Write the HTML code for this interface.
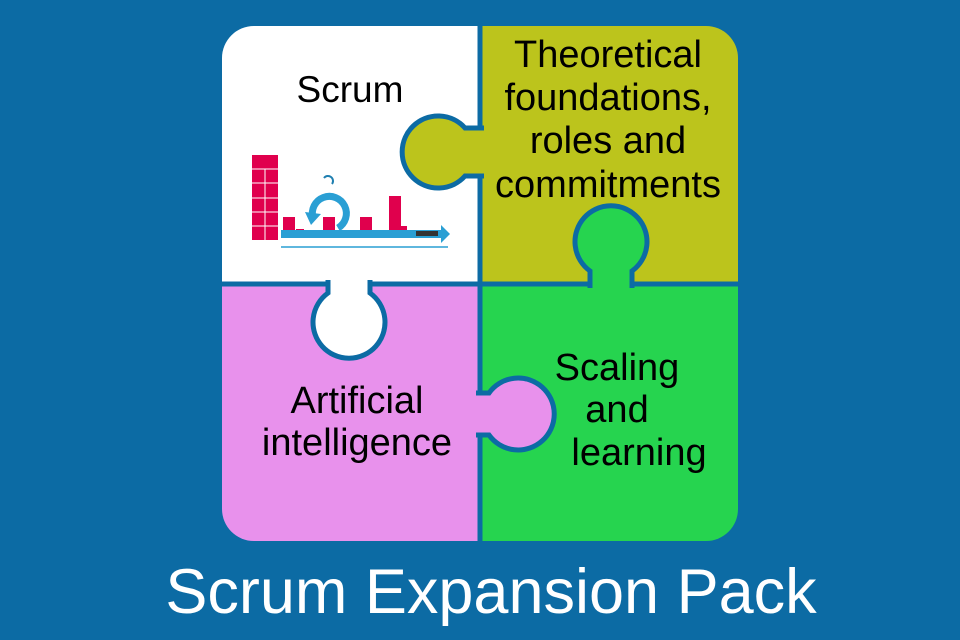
<!DOCTYPE html>
<html><head><style>
html,body{margin:0;padding:0;background:#0c6ba4;width:960px;height:640px;overflow:hidden}
svg{display:block}
text{font-family:"Liberation Sans",Arial,sans-serif;fill:#000}
</style></head><body>
<svg width="960" height="640" viewBox="0 0 960 640" xmlns="http://www.w3.org/2000/svg">
<rect width="960" height="640" fill="#0c6ba4"/>
<defs><clipPath id="sq"><rect x="222" y="26" width="516" height="515" rx="32"/></clipPath></defs>
<g clip-path="url(#sq)">
<rect x="222" y="26" width="258" height="258" fill="#ffffff"/>
<rect x="480" y="26" width="258" height="258" fill="#bcc41c"/>
<rect x="222" y="284" width="258" height="257" fill="#e891ec"/>
<rect x="480" y="284" width="258" height="257" fill="#26d44f"/>
</g>
<line x1="480" y1="26" x2="480" y2="541" stroke="#0c6ba4" stroke-width="5"/>
<line x1="222" y1="284" x2="738" y2="284" stroke="#0c6ba4" stroke-width="5"/>
<path d="M484,128 L465,128 A36 36 0 1 0 465,176 L484,176" fill="#bcc41c" stroke="#0c6ba4" stroke-width="5"/>
<path d="M590,288 L590,271 A36 36 0 1 1 632,271 L632,288" fill="#26d44f" stroke="#0c6ba4" stroke-width="5"/>
<path d="M328,280 L328,293 A36 36 0 1 0 370,293 L370,280" fill="#ffffff" stroke="#0c6ba4" stroke-width="5"/>
<path d="M476,393 L489,393 A36 36 0 1 1 489,435 L476,435" fill="#e891ec" stroke="#0c6ba4" stroke-width="5"/>
<!-- scrum icon -->
<g fill="#e0004d">
<rect x="252" y="155" width="26" height="85"/>
<rect x="283" y="217" width="12" height="21"/>
<rect x="296" y="229" width="8" height="9"/>
<rect x="323" y="217" width="12" height="21"/>
<rect x="360" y="217" width="12" height="21"/>
<rect x="389" y="196" width="12" height="42"/>
<rect x="401" y="226" width="6" height="12"/>
</g>
<g stroke="#fff" stroke-width="1">
<line x1="252" y1="169" x2="278" y2="169"/><line x1="252" y1="183" x2="278" y2="183"/><line x1="252" y1="198" x2="278" y2="198"/><line x1="252" y1="212" x2="278" y2="212"/><line x1="252" y1="226" x2="278" y2="226"/><line x1="265" y1="169" x2="265" y2="240"/>
</g>
<rect x="281" y="230" width="160" height="8" fill="#2a9fd4"/>
<polygon points="441,225 450,234 441,243" fill="#2a9fd4"/>
<path d="M338 228 A17 17 0 1 0 313 218" stroke="#2a9fd4" stroke-width="7" fill="none"/>
<polygon points="305,212 321,214 311,225" fill="#2a9fd4"/>
<path d="M324 178 A5 5 0 1 1 332 184" stroke="#1f7fb0" stroke-width="2" fill="none"/>
<rect x="416" y="231" width="22" height="5" fill="#333"/>
<line x1="281" y1="247" x2="448" y2="247" stroke="#2a9fd4" stroke-width="1.5"/>
<!-- labels -->
<text x="350" y="102" font-size="37" text-anchor="middle">Scrum</text>
<g font-size="38" text-anchor="middle">
<text x="608" y="67">Theoretical</text>
<text x="608" y="110">foundations,</text>
<text x="608" y="153">roles and</text>
<text x="608" y="197">commitments</text>
<text x="357" y="413">Artificial</text>
<text x="357" y="455">intelligence</text>
<text x="617" y="380">Scaling</text>
<text x="617" y="422">and</text>
<text x="639" y="465">learning</text>
</g>
<text x="491" y="613" font-size="63" text-anchor="middle" style="fill:#fff">Scrum Expansion Pack</text>
</svg>
</body></html>
